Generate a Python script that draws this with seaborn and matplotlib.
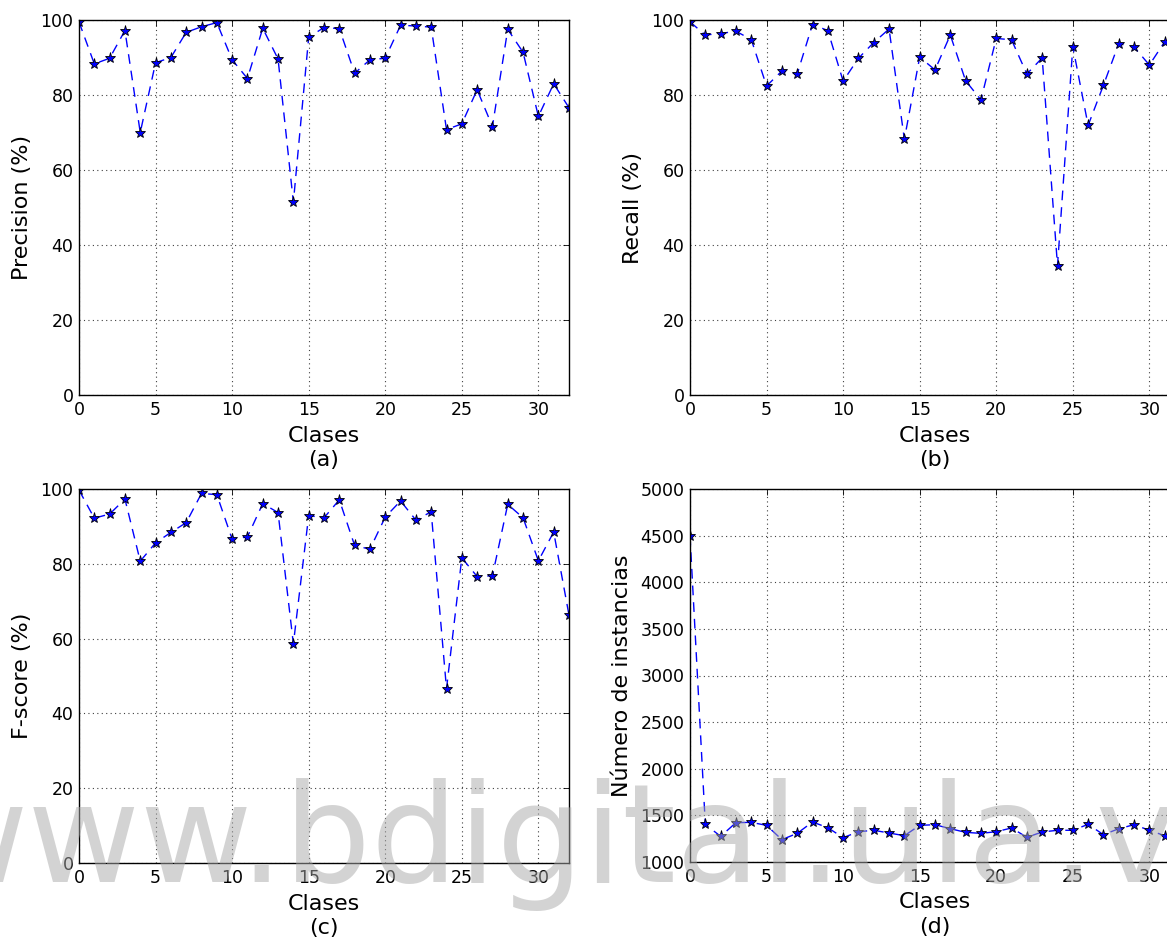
import matplotlib
matplotlib.use("Agg")
import matplotlib.pyplot as plt
import seaborn as sns
import numpy as np
import pandas as pd

# ---- data ----
clases = list(range(33))
precision = [99.5, 88.3, 89.8, 97.2, 70.0, 88.6, 90.0, 96.7, 98.2, 99.3,
             89.4, 84.4, 97.8, 89.6, 51.4, 95.4, 98.0, 97.7, 85.8, 89.4,
             89.8, 98.6, 98.4, 98.1, 70.8, 72.3, 81.4, 71.6, 97.5, 91.4,
             74.3, 83.0, 76.6]
recall = [99.5, 96.0, 96.4, 97.0, 94.8, 82.4, 86.4, 85.6, 98.8, 97.2,
          83.7, 89.8, 94.0, 97.6, 68.2, 90.1, 86.7, 96.0, 83.8, 78.7,
          95.1, 94.7, 85.6, 89.9, 34.5, 92.9, 71.9, 82.6, 93.7, 92.8,
          88.0, 94.2]
fscore = [99.7, 92.2, 93.3, 97.3, 80.7, 85.6, 88.4, 91.0, 98.8, 98.5,
          86.6, 87.2, 96.1, 93.7, 58.6, 92.9, 92.3, 97.1, 84.9, 83.9,
          92.5, 96.8, 91.7, 93.9, 46.6, 81.6, 76.6, 76.8, 95.9, 92.3,
          80.8, 88.5, 66.3]
instancias = [4500, 1404, 1275, 1422, 1425, 1393, 1240, 1307, 1429, 1368,
              1261, 1325, 1340, 1311, 1282, 1393, 1400, 1357, 1318, 1307,
              1325, 1365, 1265, 1322, 1340, 1340, 1404, 1293, 1357, 1400,
              1340, 1282]

pct_ticks = [0, 20, 40, 60, 80, 100]
inst_ticks = list(range(1000, 5001, 500))
x_ticks = [0, 5, 10, 15, 20, 25, 30]

panels = [
    ("Precision (%)", "(a)", precision, (0, 100), pct_ticks),
    ("Recall (%)", "(b)", recall, (0, 100), pct_ticks),
    ("F-score (%)", "(c)", fscore, (0, 100), pct_ticks),
    ("Número de instancias", "(d)", instancias, (1000, 5000), inst_ticks),
]

sns.set_style("white")
plt.rcParams.update({
    "font.family": ["DejaVu Sans"],
    "xtick.direction": "in",
    "ytick.direction": "in",
    "xtick.top": True,
    "ytick.right": True,
    "xtick.labelsize": 12.5,
    "ytick.labelsize": 12.5,
    "axes.labelsize": 16,
    "axes.edgecolor": "black",
    "axes.linewidth": 1.0,
    "xtick.color": "black",
    "ytick.color": "black",
    "text.color": "black",
    "axes.labelcolor": "black",
})

W, H = 1167, 940
fig = plt.figure(figsize=(W / 100, H / 100), dpi=100)

# axes rectangles in pixels: (left, top, width, height)
rects = [(79, 20, 490, 375), (690, 20, 490, 375),
         (79, 489, 490, 374), (690, 489, 490, 373)]

for (ylabel, tag, vals, ylim, yticks), (l, t, w, h) in zip(panels, rects):
    ax = fig.add_axes([l / W, (H - t - h) / H, w / W, h / H])
    df = pd.DataFrame({"Clases": clases[:len(vals)], "v": vals})
    sns.lineplot(data=df, x="Clases", y="v", ax=ax, color="blue",
                 linestyle=(0, (7, 5)), linewidth=1.0,
                 marker="*", markersize=8, markerfacecolor="blue",
                 markeredgecolor="black", markeredgewidth=0.6)
    ax.set_xlim(0, 32)
    ax.set_ylim(*ylim)
    ax.set_xticks(x_ticks)
    ax.set_yticks(yticks)
    ax.grid(True, linestyle=(0, (1, 3)), color="0.25", linewidth=0.8)
    ax.tick_params(which="major", length=4, width=0.6, pad=4)
    ax.set_xlabel("Clases\n" + tag, linespacing=1.3, labelpad=5)
    ax.set_ylabel(ylabel, labelpad=6)
    for s in ax.spines.values():
        s.set_visible(True)
        s.set_color("black")
        s.set_linewidth(1.0)

# watermark
fig.text(-85 / W, (H - 882) / H, "www.bdigital.ula.ve", fontsize=99,
         color=(0.66, 0.66, 0.66), alpha=0.5, ha="left", va="baseline",
         zorder=20)

fig.savefig("out.png", dpi=100)
